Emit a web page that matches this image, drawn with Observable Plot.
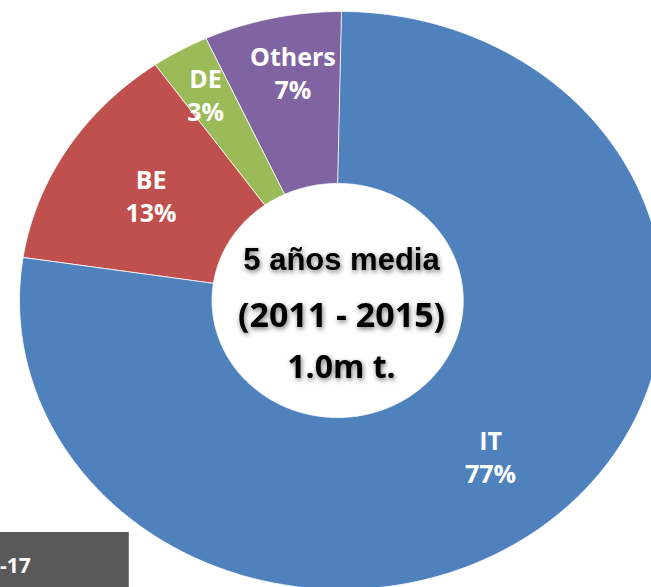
<!DOCTYPE html>
<html>
<head>
<meta charset="utf-8">
<script src="https://cdn.jsdelivr.net/npm/d3@7"></script>
<script src="https://cdn.jsdelivr.net/npm/@observablehq/plot@0.6"></script>
<style>
  html, body { margin: 0; padding: 0; background: #fff; overflow: hidden; }
  #wrap { position: relative; width: 651px; height: 587px; overflow: hidden; }
  #chart svg { display: block; max-width: none; }
  .shadowed { filter: drop-shadow(1px 2px 2.5px rgba(0,0,0,0.55)); }
  #box { position: absolute; left: 0; top: 532px; width: 128px; height: 55px; background: #595959; border-right: 1px solid #7a7a7a; }
  #box span { position: absolute; left: 0; top: 19px; line-height: 21px; color: #fff; font: bold 21px "Open Sans", sans-serif; }
</style>
</head>
<body>
<div id="wrap">
  <div id="chart"></div>
  <div id="box"><span>-17</span></div>
</div>
<script>
// ---- data ----
const categories = ["IT", "BE", "DE", "Others"];
const shares = [77.4, 12.8, 2.9, 6.9];
const shareLabels = ["77%", "13%", "3%", "7%"];
const centerLines = ["5 años media", "(2011 - 2015)", "1.0m t."];

// ---- styling / layout ----
const sliceColors = {IT: "#4f81bd", BE: "#c0504d", DE: "#9bbb59", Others: "#8064a2"};
const innerRx = 0.39, innerRy = 0.405, innerDx = -0.012;
const labelLayout = {IT: {r: 0.71, da: 0}, BE: {r: 0.695, da: 0}, DE: {r: 0.83, da: -0.5}, Others: {r: 0.805, da: 1.6}};

const arcs = d3.pie().sort(null)(shares);

function slicePolygon(a0, a1) {
  const n = Math.max(4, Math.ceil((a1 - a0) / 0.01));
  const pts = [];
  for (let i = 0; i <= n; i++) {
    const a = a0 + (a1 - a0) * i / n;
    pts.push({x: Math.sin(a), y: Math.cos(a)});
  }
  for (let i = n; i >= 0; i--) {
    const a = a0 + (a1 - a0) * i / n;
    pts.push({x: innerDx + innerRx * Math.sin(a), y: innerRy * Math.cos(a)});
  }
  return pts;
}

const sliceMarks = categories.map((c, i) =>
  Plot.line(slicePolygon(arcs[i].startAngle, arcs[i].endAngle), {
    x: "x", y: "y", curve: "linear-closed",
    fill: sliceColors[c], stroke: "#ffffff", strokeWidth: 1, strokeOpacity: 0.8
  })
);

const labelData = categories.map((c, i) => {
  const mid = (arcs[i].startAngle + arcs[i].endAngle) / 2 + labelLayout[c].da * Math.PI / 180;
  const r = labelLayout[c].r;
  return {x: r * Math.sin(mid), y: r * Math.cos(mid), text: c + "\n" + shareLabels[i]};
});

const centerStyle = [
  {dy: -40, fontSize: 31, fontFamily: "Liberation Sans, Arial, sans-serif"},
  {dy: 16, fontSize: 34, fontFamily: "Open Sans, sans-serif"},
  {dy: 67, fontSize: 32, fontFamily: "Open Sans, sans-serif"}
];

const centerMarks = centerLines.map((t, i) => {
  const s = centerStyle[i];
  return Plot.text([t], {x: 0, y: 0, text: d => d, dy: s.dy, fontSize: s.fontSize,
    fontFamily: s.fontFamily, fontWeight: "bold", fill: "#000000", className: "shadowed"});
});

const chart = Plot.plot({
  width: 651,
  height: 587,
  margin: 0,
  style: {background: "#ffffff", overflow: "hidden"},
  x: {domain: [-1, 1], range: [19, 663], axis: null},
  y: {domain: [-1, 1], range: [589, 11], axis: null},
  marks: [
    ...sliceMarks,
    Plot.text(labelData, {x: "x", y: "y", text: "text", fill: "#ffffff", fontSize: 25,
      fontWeight: "bold", fontFamily: "Open Sans, sans-serif", lineHeight: 1.32}),
    ...centerMarks
  ]
});
document.getElementById("chart").appendChild(chart);
</script>
</body>
</html>
